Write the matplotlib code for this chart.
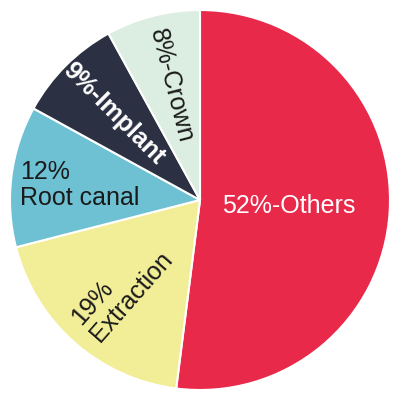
import matplotlib
matplotlib.use("Agg")
import matplotlib.pyplot as plt
import numpy as np

plt.rcParams['font.family'] = ['Liberation Sans', 'DejaVu Sans']

categories = ["Others", "Extraction", "Root canal", "Implant", "Crown"]
values = [52, 19, 12, 9, 8]
labels = ["52%-Others", "19%\nExtraction", "12%\nRoot canal", "9%-Implant", "8%-Crown"]
colors = ["#E8294A", "#F2EE98", "#6EC1D3", "#2B3043", "#DCEDE2"]
text_colors = ["white", "#1a1a1a", "#1a1a1a", "white", "#1a1a1a"]
weights = ["normal", "normal", "normal", "bold", "normal"]
radial = [False, True, False, True, True]
dist = [0.47, 0.62, 0.64, 0.64, 0.62]

fig = plt.figure(figsize=(4, 4), dpi=100)
ax = fig.add_axes([0, 0, 1, 1])
R = 0.95
wedges, _ = ax.pie(values, colors=colors, startangle=90, counterclock=False,
                   radius=R, wedgeprops=dict(edgecolor="white", linewidth=1.5))
for w, lab, tc, fw, rad, d in zip(wedges, labels, text_colors, weights, radial, dist):
    mid = np.deg2rad((w.theta1 + w.theta2) / 2)
    x, y = d * R * np.cos(mid), d * R * np.sin(mid)
    rot = np.rad2deg(mid) + 180 if rad else 0
    rot = (rot + 180) % 360 - 180
    ax.text(x, y, lab, color=tc, fontsize=18, fontweight=fw, ha="center", va="center",
            rotation=rot, rotation_mode="anchor", multialignment="left",
            linespacing=1.1)
ax.set_xlim(-1, 1)
ax.set_ylim(-1, 1)
ax.set_aspect("equal")
ax.axis("off")
fig.savefig("out.png", dpi=100)
